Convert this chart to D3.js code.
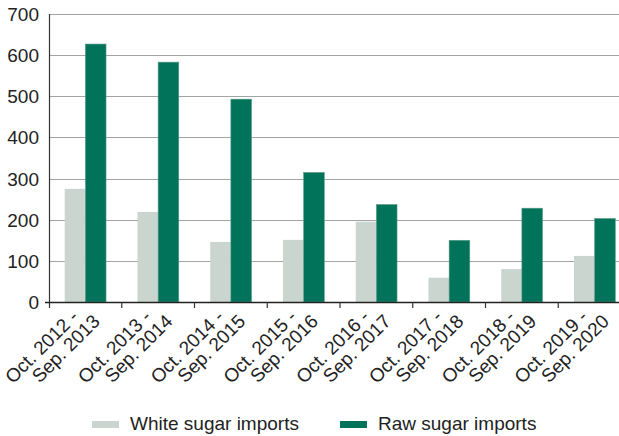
<!DOCTYPE html>
<html lang="en">
<head>
    <meta charset="UTF-8">
    <title>Sugar imports</title>
    <script src="https://d3js.org/d3.v7.min.js"></script>
    <style>
        body { margin: 0; background: #fff; }
        text { font-family: "Liberation Sans", Arial, sans-serif; fill: #222; }
    </style>
</head>
<body>
    <svg width="619" height="436" id="chart"></svg>

    <script>
        // Data
        const seasonsTop = ["Oct. 2012 -", "Oct. 2013 -", "Oct. 2014 -", "Oct. 2015 -",
                            "Oct. 2016 -", "Oct. 2017 -", "Oct. 2018 -", "Oct. 2019 -"];
        const seasonsBottom = ["Sep. 2013", "Sep. 2014", "Sep. 2015", "Sep. 2016",
                               "Sep. 2017", "Sep. 2018", "Sep. 2019", "Sep. 2020"];
        const whiteSugar = [275, 219, 146, 151, 195, 59, 80, 112];
        const rawSugar = [627, 583, 493, 315, 237, 150, 228, 203];
        const seriesNames = ["White sugar imports", "Raw sugar imports"];
        const yTicks = [0, 100, 200, 300, 400, 500, 600, 700];

        const whiteColor = "#cad5cf";
        const greenColor = "#00735a";
        const gridColor = "#a3a3a3";

        const svg = d3.select("#chart");

        // Plot area (runs past the right edge, like the reference crop)
        const plotLeft = 49, plotRight = 631, plotTop = 14, plotBottom = 302;

        const x = d3.scaleBand()
            .domain(d3.range(seasonsTop.length))
            .range([plotLeft, plotRight])
            .paddingInner(0.432)
            .paddingOuter(0.216);
        const step = x.step();

        const xSub = d3.scaleBand()
            .domain([0, 1])
            .range([0, x.bandwidth()]);

        const y = d3.scaleLinear().domain([0, 700]).range([plotBottom, plotTop]);

        // Gridlines
        svg.append("g")
            .selectAll("line")
            .data(yTicks.filter(d => d > 0))
            .join("line")
            .attr("x1", plotLeft)
            .attr("x2", 619)
            .attr("y1", d => Math.round(y(d)) + 0.5)
            .attr("y2", d => Math.round(y(d)) + 0.5)
            .attr("stroke", gridColor)
            .attr("stroke-width", 1.2);

        // Y labels
        svg.append("g")
            .selectAll("text")
            .data(yTicks)
            .join("text")
            .attr("x", 39)
            .attr("y", d => y(d) + 7)
            .attr("text-anchor", "end")
            .style("font-size", "19px")
            .text(d => d);

        // Bars
        const groups = svg.append("g")
            .selectAll("g")
            .data(d3.range(seasonsTop.length))
            .join("g")
            .attr("transform", i => `translate(${x(i)},0)`);

        groups.append("rect")
            .attr("x", xSub(0))
            .attr("width", xSub.bandwidth())
            .attr("y", i => y(whiteSugar[i]))
            .attr("height", i => y(0) - y(whiteSugar[i]))
            .attr("fill", whiteColor);

        groups.append("rect")
            .attr("x", xSub(1))
            .attr("width", xSub.bandwidth())
            .attr("y", i => y(rawSugar[i]))
            .attr("height", i => y(0) - y(rawSugar[i]))
            .attr("fill", greenColor)
            .attr("stroke", "#5c9d88")
            .attr("stroke-width", 0.6);

        // Axes lines
        svg.append("line")
            .attr("x1", plotLeft + 0.5).attr("x2", plotLeft + 0.5)
            .attr("y1", plotTop).attr("y2", plotBottom + 6)
            .attr("stroke", "#333").attr("stroke-width", 1.2);

        svg.append("line")
            .attr("x1", 45).attr("x2", 619)
            .attr("y1", plotBottom + 0.5).attr("y2", plotBottom + 0.5)
            .attr("stroke", "#222").attr("stroke-width", 1.4);

        // Tick marks between categories
        svg.append("g")
            .selectAll("line")
            .data(d3.range(1, seasonsTop.length))
            .join("line")
            .attr("x1", i => plotLeft + i * step)
            .attr("x2", i => plotLeft + i * step)
            .attr("y1", plotBottom)
            .attr("y2", plotBottom + 6)
            .attr("stroke", "#333")
            .attr("stroke-width", 1.2);

        // Rotated two-line category labels
        const labels = svg.append("g")
            .selectAll("g")
            .data(d3.range(seasonsTop.length))
            .join("g")
            .attr("transform", i => `translate(${x(i) + x.bandwidth() / 2 - 6},${plotBottom + 16}) rotate(-45)`);

        labels.append("text")
            .attr("text-anchor", "end")
            .style("font-size", "19px")
            .text(i => seasonsTop[i]);

        labels.append("text")
            .attr("text-anchor", "end")
            .attr("x", 12)
            .attr("y", 18.5)
            .style("font-size", "19px")
            .text(i => seasonsBottom[i]);

        // Legend
        const legendItems = [
            { name: seriesNames[0], color: whiteColor, x: 92 },
            { name: seriesNames[1], color: greenColor, x: 340 }
        ];
        const legend = svg.append("g")
            .selectAll("g")
            .data(legendItems)
            .join("g")
            .attr("transform", d => `translate(${d.x},421)`);

        legend.append("rect")
            .attr("width", 27)
            .attr("height", 7)
            .attr("fill", d => d.color);

        legend.append("text")
            .attr("x", 38)
            .attr("y", 9)
            .style("font-size", "19px")
            .text(d => d.name);
    </script>
</body>
</html>
